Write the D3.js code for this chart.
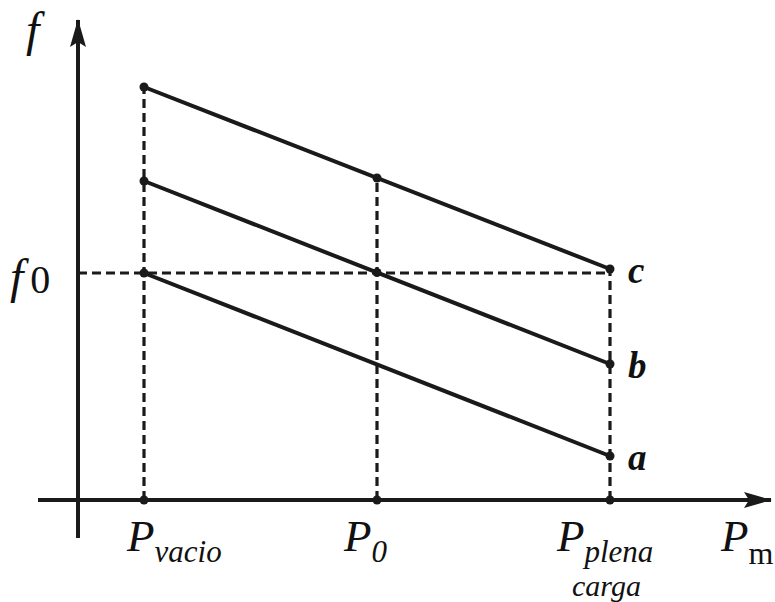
<!DOCTYPE html>
<html>
<head>
<meta charset="utf-8">
<script src="https://cdn.jsdelivr.net/npm/d3@7/dist/d3.min.js"></script>
<style>
  html, body { margin: 0; padding: 0; background: #fff; }
  svg { display: block; }
  text { font-family: "Liberation Serif", "Times New Roman", serif; fill: #111; }
</style>
</head>
<body>
<script>
// Power operating points on the horizontal axis (P_vacio, P_0, P_plena carga)
const powerPoints = [1, 2, 3];
// Frequency-droop characteristics: value at P_vacio and at P_plena carga
const curveNames = ["a", "b", "c"];
const fAtNoLoad = [2.27, 3.19, 4.13];
const fAtFullLoad = [0.44, 1.36, 2.31];
// Nominal frequency f0
const f0 = 2.27;

const W = 775, H = 602;
const svg = d3.select("body").append("svg").attr("width", W).attr("height", H);

const x = d3.scaleLinear().domain([1, 3]).range([144, 610]);
const y = d3.scaleLinear().domain([0, 4.8]).range([500, 20]);

const ink = "#1a1a1a";

// arrow heads
const defs = svg.append("defs");
defs.append("marker")
  .attr("id", "arrow")
  .attr("viewBox", "0 0 28 16")
  .attr("refX", 27).attr("refY", 8)
  .attr("markerWidth", 28).attr("markerHeight", 16)
  .attr("markerUnits", "userSpaceOnUse")
  .attr("orient", "auto")
  .append("path")
  .attr("d", "M0,0 L28,8 L0,16 L5,8 Z")
  .attr("fill", ink);

const axisX0 = 78;
// axes
svg.append("line")
  .attr("x1", 38).attr("x2", 771)
  .attr("y1", y(0)).attr("y2", y(0))
  .attr("stroke", ink).attr("stroke-width", 4)
  .attr("marker-end", "url(#arrow)");
svg.append("line")
  .attr("x1", axisX0).attr("x2", axisX0)
  .attr("y1", 538).attr("y2", 20)
  .attr("stroke", ink).attr("stroke-width", 4)
  .attr("marker-end", "url(#arrow)");

// each characteristic as a line between its two end values
const curves = curveNames.map((n, i) => ({
  name: n,
  p: [{ P: powerPoints[0], f: fAtNoLoad[i] }, { P: powerPoints[2], f: fAtFullLoad[i] }]
}));
const valueAt = (c, P) => {
  const t = (P - c.p[0].P) / (c.p[1].P - c.p[0].P);
  return c.p[0].f + t * (c.p[1].f - c.p[0].f);
};
const highest = curves[2];

const dash = "9,5";
// vertical guide lines up to the highest characteristic
powerPoints.forEach(P => {
  svg.append("line")
    .attr("x1", x(P)).attr("x2", x(P))
    .attr("y1", y(0)).attr("y2", y(valueAt(highest, P)))
    .attr("stroke", ink).attr("stroke-width", 3.2)
    .attr("stroke-dasharray", dash);
});
// horizontal guide at f0
svg.append("line")
  .attr("x1", axisX0).attr("x2", x(powerPoints[2]))
  .attr("y1", y(f0)).attr("y2", y(f0))
  .attr("stroke", ink).attr("stroke-width", 2.8)
  .attr("stroke-dasharray", dash);

const line = d3.line().x(d => x(d.P)).y(d => y(d.f));
svg.selectAll("path.curve").data(curves).enter().append("path")
  .attr("class", "curve")
  .attr("d", d => line(d.p))
  .attr("fill", "none").attr("stroke", ink).attr("stroke-width", 4);

// points
const dots = [];
curves.forEach(c => c.p.forEach(d => dots.push(d)));
dots.push({ P: 2, f: valueAt(curves[2], 2) });
dots.push({ P: 2, f: valueAt(curves[1], 2) });
powerPoints.forEach(P => dots.push({ P: P, f: 0 }));
svg.selectAll("circle.pt").data(dots).enter().append("circle")
  .attr("class", "pt")
  .attr("cx", d => x(d.P)).attr("cy", d => y(d.f)).attr("r", 4.5)
  .attr("fill", ink);

// curve names
svg.selectAll("text.cname").data(curves).enter().append("text")
  .attr("class", "cname")
  .attr("x", 628)
  .attr("y", d => y(d.p[1].f) + 14)
  .attr("font-size", 37).attr("font-weight", "bold").attr("font-style", "italic")
  .text(d => d.name);

// axis titles
svg.append("text").attr("x", 26).attr("y", 46)
  .attr("font-size", 48).attr("font-style", "italic").text("f");

const f0Label = svg.append("text").attr("x", 10).attr("y", y(f0) + 20).attr("font-size", 48);
f0Label.append("tspan").attr("font-style", "italic").text("f");
f0Label.append("tspan").attr("font-size", 40).attr("dx", 7).text("0");

const pm = svg.append("text").attr("x", 721).attr("y", 551).attr("font-size", 45);
pm.append("tspan").attr("font-style", "italic").text("P");
pm.append("tspan").attr("font-size", 32).attr("dy", 13).text("m");

// power point labels
const pLabels = [
  { P: 1, sub: "vacio", dx: -17 },
  { P: 2, sub: "0", dx: -33 },
  { P: 3, sub: "plena", dx: -53 }
];
pLabels.forEach(d => {
  const t = svg.append("text").attr("x", x(d.P) + d.dx).attr("y", 551)
    .attr("font-size", 45).attr("font-style", "italic");
  t.append("tspan").text("P");
  t.append("tspan").attr("font-size", 31).attr("dy", 11).text(d.sub);
});
svg.append("text").attr("x", 572).attr("y", 596)
  .attr("font-size", 30).attr("font-style", "italic").text("carga");
</script>
</body>
</html>
